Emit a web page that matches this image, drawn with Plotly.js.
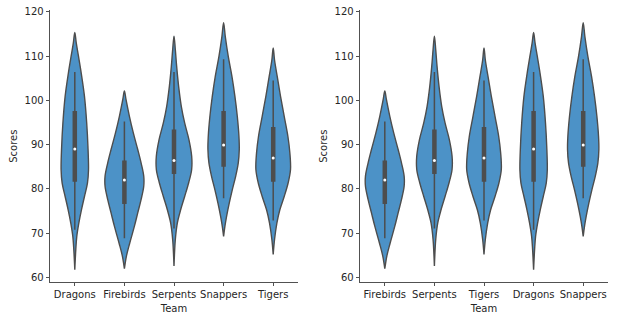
<!DOCTYPE html>
<html>
<head>
<meta charset="utf-8">
<script src="https://cdn.plot.ly/plotly-3.0.1.min.js"></script>
<style>html,body{margin:0;padding:0;background:#fff;}#chart{width:619px;height:322px;}</style>
</head>
<body>
<div id="chart"></div>
<script>
// Teams (left panel order) and right panel order
const teams = ["Dragons", "Firebirds", "Serpents", "Snappers", "Tigers"];
const rightOrder = ["Firebirds", "Serpents", "Tigers", "Dragons", "Snappers"];

// Violin outlines: score levels and half-widths (category units)
const dragonsLevels = [115.3, 112.9, 109.9, 106.1, 100.9, 94.9, 89.6, 84.3, 81.3, 78.3, 75.3, 72.3, 69.3, 66.3, 61.8];
const dragonsWidths = [0, 0.030, 0.075, 0.130, 0.195, 0.240, 0.265, 0.276, 0.255, 0.195, 0.134, 0.081, 0.040, 0.020, 0];

const firebirdsLevels = [102.1, 100.1, 96.4, 92.6, 88.9, 85.9, 82.9, 80.6, 77.6, 74.6, 71.6, 67.8, 64.8, 62.0];
const firebirdsWidths = [0, 0.034, 0.101, 0.181, 0.269, 0.336, 0.390, 0.390, 0.336, 0.269, 0.202, 0.108, 0.040, 0];

const serpentsLevels = [114.5, 111.4, 107.6, 103.1, 98.6, 94.9, 91.1, 87.4, 84.4, 81.4, 78.3, 75.3, 72.3, 68.6, 62.6];
const serpentsWidths = [0, 0.027, 0.054, 0.094, 0.148, 0.215, 0.302, 0.356, 0.356, 0.296, 0.215, 0.134, 0.067, 0.027, 0];

const snappersLevels = [117.5, 114.4, 109.9, 105.4, 100.9, 96.4, 91.9, 88.9, 85.9, 82.8, 79.8, 76.8, 73.8, 71.6, 69.3];
const snappersWidths = [0, 0.034, 0.094, 0.168, 0.228, 0.276, 0.309, 0.316, 0.296, 0.242, 0.175, 0.114, 0.060, 0.027, 0];

const tigersLevels = [111.8, 109.1, 105.4, 100.9, 96.4, 91.9, 88.1, 84.4, 81.4, 78.3, 75.3, 72.3, 68.6, 65.2];
const tigersWidths = [0, 0.027, 0.081, 0.148, 0.222, 0.296, 0.336, 0.349, 0.302, 0.222, 0.134, 0.074, 0.027, 0];

// Inner box statistics, in the order of `teams`
const whiskerLow  = [70.8, 68.9, 71.1, 77.9, 72.9];
const q1          = [81.6, 76.6, 83.4, 85.0, 81.6];
const medians     = [89.0, 82.0, 86.4, 89.9, 87.0];
const q3          = [97.6, 86.4, 93.4, 97.6, 94.0];
const whiskerHigh = [106.4, 95.2, 106.4, 109.3, 104.5];

const shapes = {
  Dragons: [dragonsLevels, dragonsWidths],
  Firebirds: [firebirdsLevels, firebirdsWidths],
  Serpents: [serpentsLevels, serpentsWidths],
  Snappers: [snappersLevels, snappersWidths],
  Tigers: [tigersLevels, tigersWidths]
};

const FILL = "#4c92c7";
const GRAY = "#4d4d4d";
const TXT = "#262626";

function buildPanel(order, xa, ya) {
  const traces = [];
  order.forEach((team, i) => {
    const [lv, wd] = shapes[team];
    const xs = [], ys = [];
    for (let k = 0; k < lv.length; k++) { xs.push(i + wd[k]); ys.push(lv[k]); }
    for (let k = lv.length - 1; k >= 0; k--) { xs.push(i - wd[k]); ys.push(lv[k]); }
    traces.push({
      type: "scatter", mode: "lines", x: xs, y: ys, xaxis: xa, yaxis: ya,
      fill: "toself", fillcolor: FILL,
      line: {color: GRAY, width: 1.4, shape: "spline", smoothing: 1},
      hoverinfo: "skip", showlegend: false
    });
    const t = teams.indexOf(team);
    traces.push({
      type: "scatter", mode: "lines", x: [i, i], y: [whiskerLow[t], whiskerHigh[t]],
      xaxis: xa, yaxis: ya, line: {color: GRAY, width: 1.5}, hoverinfo: "skip", showlegend: false
    });
    traces.push({
      type: "scatter", mode: "lines", x: [i, i], y: [q1[t], q3[t]],
      xaxis: xa, yaxis: ya, line: {color: GRAY, width: 4.5}, hoverinfo: "skip", showlegend: false
    });
    traces.push({
      type: "scatter", mode: "markers", x: [i], y: [medians[t]],
      xaxis: xa, yaxis: ya, marker: {color: "#ffffff", size: 3, line: {width: 0}},
      hoverinfo: "skip", showlegend: false
    });
  });
  return traces;
}

const data = buildPanel(teams, "x", "y").concat(buildPanel(rightOrder, "x2", "y2"));

const font = {family: "DejaVu Sans, sans-serif", size: 10, color: TXT};
function xAxis(domain, order, anchor) {
  return {
    domain: domain, anchor: anchor, range: [-0.5, 4.5],
    tickmode: "array", tickvals: order.map((_, i) => i), ticktext: order,
    showgrid: false, zeroline: false, showline: true, linecolor: TXT, linewidth: 0.8,
    ticks: "outside", ticklen: 3.5, tickwidth: 0.8, tickcolor: TXT,
    tickfont: font, title: {text: "Team", font: font, standoff: 5}, fixedrange: true
  };
}
function yAxis(anchor) {
  return {
    domain: [0.1242, 0.9677], anchor: anchor, range: [59.0, 120.3],
    tickmode: "array", tickvals: [60, 70, 80, 90, 100, 110, 120],
    showgrid: false, zeroline: false, showline: true, linecolor: TXT, linewidth: 0.8,
    ticks: "outside", ticklen: 3.5, tickwidth: 0.8, tickcolor: TXT,
    tickfont: font, title: {text: "Scores", font: font, standoff: 5}, fixedrange: true
  };
}

const layout = {
  width: 619, height: 322,
  margin: {l: 0, r: 0, t: 0, b: 0},
  paper_bgcolor: "#ffffff", plot_bgcolor: "#ffffff",
  font: font, showlegend: false,
  xaxis: xAxis([50 / 619, 298 / 619], teams, "y"),
  yaxis: yAxis("x"),
  xaxis2: xAxis([360 / 619, 608 / 619], rightOrder, "y2"),
  yaxis2: yAxis("x2")
};

Plotly.newPlot("chart", data, layout, {displayModeBar: false, staticPlot: true});
</script>
</body>
</html>
